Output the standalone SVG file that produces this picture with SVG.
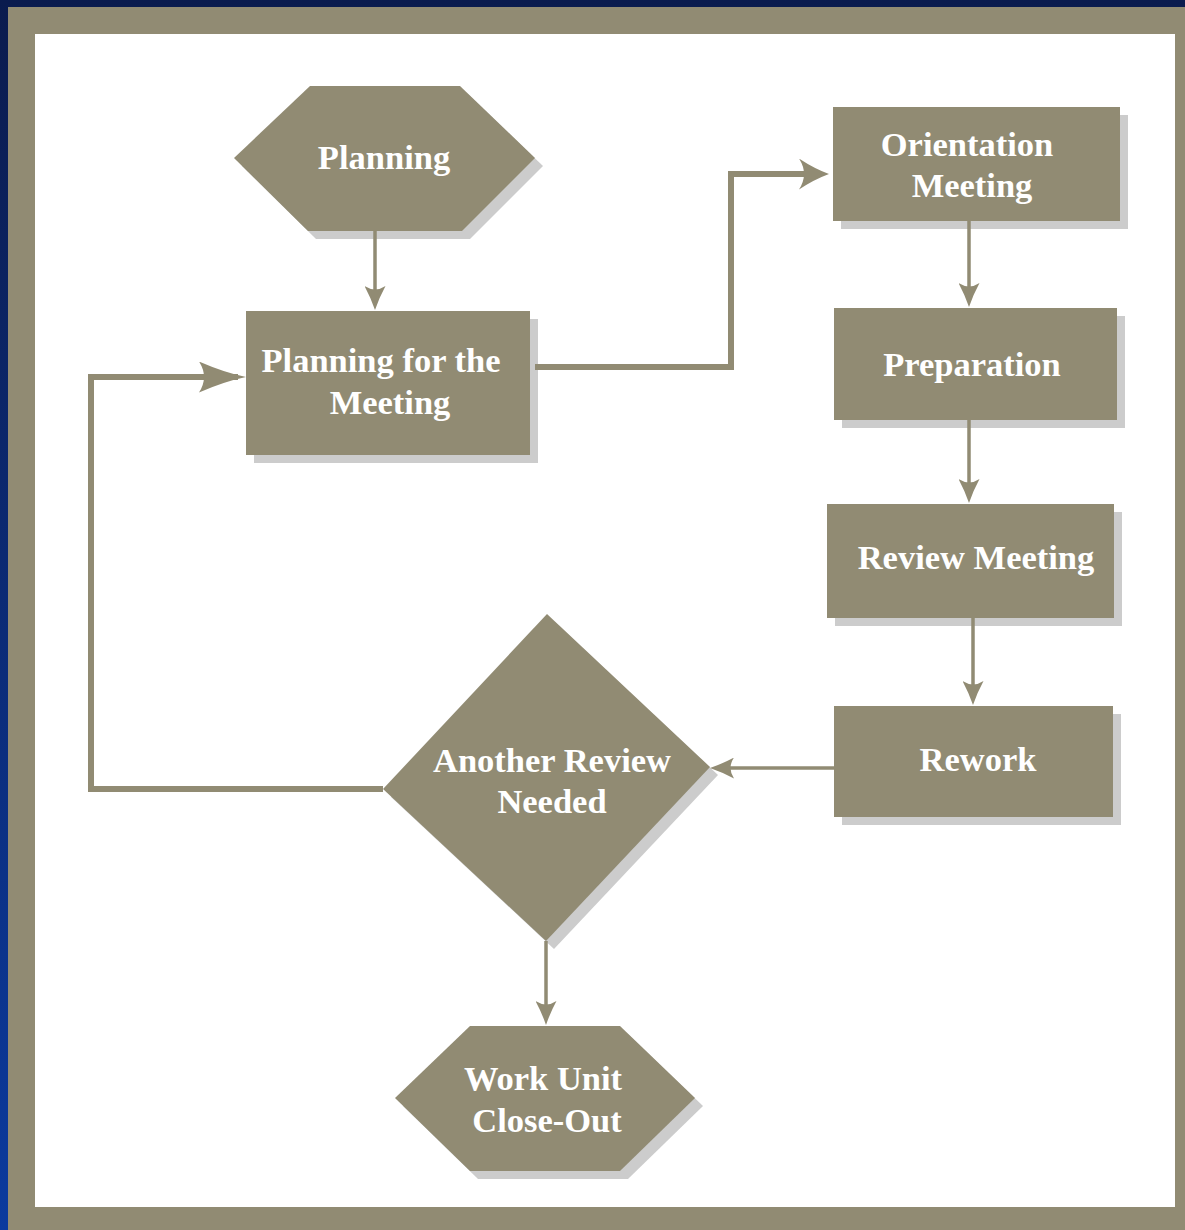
<svg xmlns="http://www.w3.org/2000/svg" width="1185" height="1230" viewBox="0 0 1185 1230">
  <defs>
    <linearGradient id="bg" x1="0" y1="0" x2="0" y2="1">
      <stop offset="0" stop-color="#0a1b4e"/>
      <stop offset="1" stop-color="#0a3a9e"/>
    </linearGradient>
    <marker id="aThin" markerUnits="userSpaceOnUse" markerWidth="26" markerHeight="21" viewBox="0 0 26 21" refX="17" refY="10.5" orient="auto">
      <path d="M25,10.5 Q12,6 1,0 Q8,10.5 1,21 Q12,15 25,10.5 Z" fill="#918b73"/>
    </marker>
    <marker id="aThick" markerUnits="userSpaceOnUse" markerWidth="31" markerHeight="31" viewBox="0 0 31 31" refX="22" refY="15.5" orient="auto">
      <path d="M30,15.5 Q15,10 0,0 Q10,15.5 0,31 Q15,21 30,15.5 Z" fill="#918b73"/>
    </marker>
    <marker id="aLong" markerUnits="userSpaceOnUse" markerWidth="48" markerHeight="31" viewBox="0 0 48 31" refX="39" refY="15.5" orient="auto">
      <path d="M47,15.5 Q25,11 0,0 Q10,15.5 0,31 Q25,20 47,15.5 Z" fill="#918b73"/>
    </marker>
  </defs>
  <style>
    .node { fill: #918b73; }
    .shadow { fill: #cccccc; }
    .lbl { font-family: "Liberation Serif", "Times New Roman", serif; font-weight: bold; font-size: 34.5px; fill: #ffffff; text-anchor: middle; }
    .thin { fill: none; stroke: #918b73; stroke-width: 3.5; marker-end: url(#aThin); }
    .thick { fill: none; stroke: #918b73; stroke-width: 6; }
  </style>
  <rect x="0" y="0" width="1185" height="1230" fill="url(#bg)"/>
  <rect x="8" y="7" width="1200" height="1250" fill="#918b73"/>
  <rect x="35" y="34" width="1140" height="1173" fill="#ffffff"/>

  <g id="planning">
    <polygon class="shadow" points="242,166 318,94 468,94 543,166 470,239 316,239"/>
    <polygon class="node" points="234,158 310,86 460,86 535,158 462,231 308,231"/>
    <text class="lbl" x="384" y="169">Planning</text>
  </g>

  <g id="planning-meeting">
    <rect class="shadow" x="254" y="319" width="284" height="144"/>
    <rect class="node" x="246" y="311" width="284" height="144"/>
    <text class="lbl" x="381" y="372">Planning for the</text>
    <text class="lbl" x="390" y="414">Meeting</text>
  </g>

  <g id="orientation">
    <rect class="shadow" x="841" y="115" width="287" height="114"/>
    <rect class="node" x="833" y="107" width="287" height="114"/>
    <text class="lbl" x="967" y="156">Orientation</text>
    <text class="lbl" x="972" y="197">Meeting</text>
  </g>

  <g id="preparation">
    <rect class="shadow" x="842" y="316" width="283" height="112"/>
    <rect class="node" x="834" y="308" width="283" height="112"/>
    <text class="lbl" x="972" y="376">Preparation</text>
  </g>

  <g id="review-meeting">
    <rect class="shadow" x="835" y="512" width="287" height="114"/>
    <rect class="node" x="827" y="504" width="287" height="114"/>
    <text class="lbl" x="976" y="569">Review Meeting</text>
  </g>

  <g id="rework">
    <rect class="shadow" x="842" y="714" width="279" height="111"/>
    <rect class="node" x="834" y="706" width="279" height="111"/>
    <text class="lbl" x="978" y="771">Rework</text>
  </g>

  <g id="another-review">
    <polygon class="shadow" points="555,622 718,775 554,949 391,797"/>
    <polygon class="node" points="547,614 710,767 546,941 383,789"/>
    <text class="lbl" x="552" y="772">Another Review</text>
    <text class="lbl" x="552" y="813">Needed</text>
  </g>

  <g id="close-out">
    <polygon class="shadow" points="403,1106 478,1034 628,1034 703,1106 628,1179 478,1179"/>
    <polygon class="node" points="395,1098 470,1026 620,1026 695,1098 620,1171 470,1171"/>
    <text class="lbl" x="543" y="1090">Work Unit</text>
    <text class="lbl" x="547" y="1132">Close-Out</text>
  </g>

  <g id="connectors">
    <line class="thin" x1="375" y1="231" x2="375" y2="302"/>
    <polyline class="thick" points="535,367 731,367 731,174 821,174" marker-end="url(#aThick)"/>
    <line class="thin" x1="969" y1="221" x2="969" y2="299"/>
    <line class="thin" x1="969" y1="420" x2="969" y2="495"/>
    <line class="thin" x1="973" y1="618" x2="973" y2="697"/>
    <line class="thin" x1="834" y1="768" x2="718" y2="768"/>
    <line class="thin" x1="546" y1="941" x2="546" y2="1017"/>
    <polyline class="thick" points="383,789 91,789 91,377 238,377" marker-end="url(#aLong)"/>
  </g>
</svg>
